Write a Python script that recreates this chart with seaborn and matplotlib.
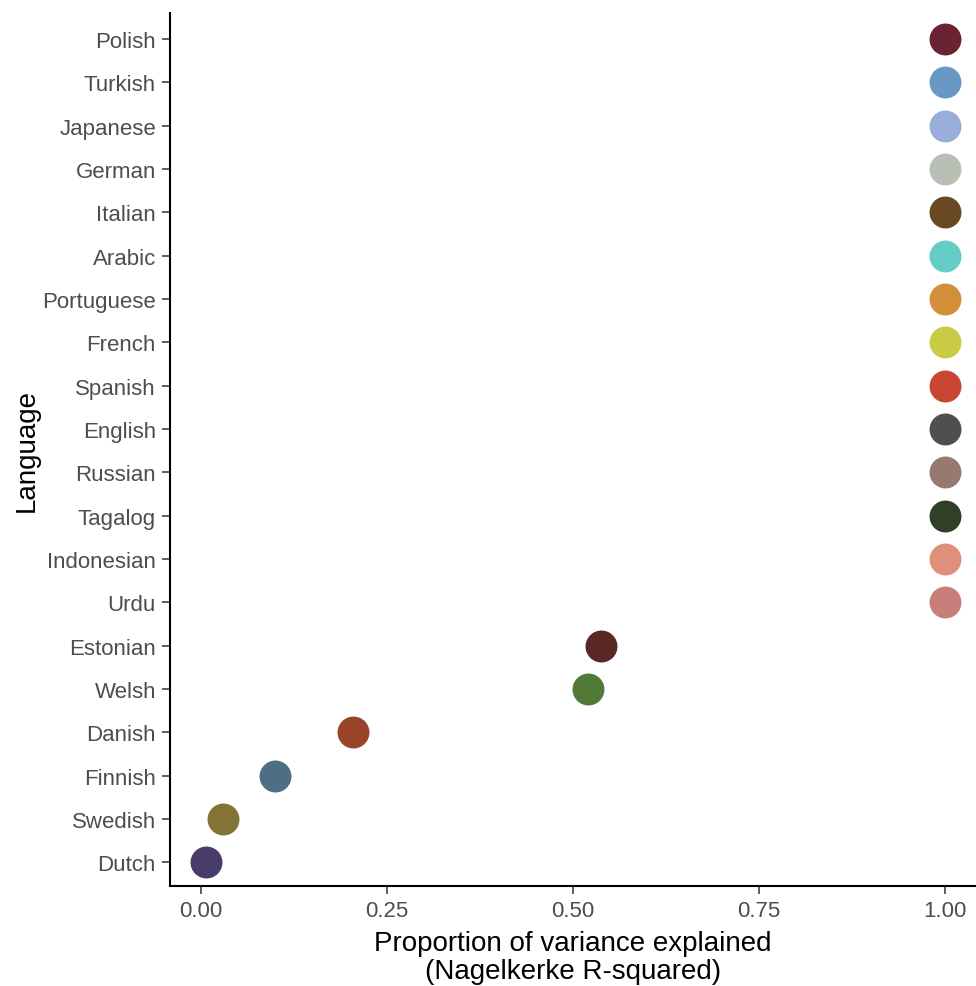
import pandas as pd
import matplotlib.pyplot as plt
import seaborn as sns

# data
languages = ['Polish', 'Turkish', 'Japanese', 'German', 'Italian', 'Arabic',
             'Portuguese', 'French', 'Spanish', 'English', 'Russian', 'Tagalog',
             'Indonesian', 'Urdu', 'Estonian', 'Welsh', 'Danish', 'Finnish',
             'Swedish', 'Dutch']
r_squared = [1.0, 1.0, 1.0, 1.0, 1.0, 1.0, 1.0, 1.0, 1.0, 1.0, 1.0, 1.0,
             1.0, 1.0, 0.538, 0.520, 0.204, 0.099, 0.030, 0.007]
colors = ['#6B2333', '#6A98C4', '#98ADDA', '#BABFB6', '#6A4823', '#66CCC6',
          '#D28E38', '#C9CB45', '#CB4632', '#4F4F4F', '#977970', '#2F4027',
          '#E0907A', '#C87F7B', '#5A2824', '#527A37', '#9A4429', '#4E6E85',
          '#837334', '#483C69']

df = pd.DataFrame({'Language': languages, 'R2': r_squared})
palette = dict(zip(languages, colors))

sns.set_style('white')
plt.rcParams['font.family'] = ['Liberation Sans', 'DejaVu Sans']

fig = plt.figure(figsize=(9.76, 9.87), dpi=100)
ax = fig.add_axes([0.174, 0.101, 0.826, 0.885])

sns.stripplot(data=df, x='R2', y='Language', hue='Language', order=languages,
              palette=palette, jitter=False, size=23, linewidth=0,
              legend=False, ax=ax)

ax.set_xlim(-0.0417, 1.0417)
ax.set_ylim(19.55, -0.6)
ax.set_xticks([0, 0.25, 0.5, 0.75, 1.0])
ax.set_xticklabels(['0.00', '0.25', '0.50', '0.75', '1.00'])
ax.set_xlabel('Proportion of variance explained\n(Nagelkerke R-squared)',
              fontsize=20, color='black', linespacing=1.12, labelpad=6)
ax.set_ylabel('Language', fontsize=20, color='black', labelpad=2)
ax.tick_params(axis='both', labelsize=16, labelcolor='#4D4D4D',
               color='#333333', length=6, width=1.1, direction='out',
               left=True, bottom=True, pad=4)

for side in ['top', 'right']:
    ax.spines[side].set_visible(False)
for side in ['left', 'bottom']:
    ax.spines[side].set_linewidth(1.5)
    ax.spines[side].set_color('black')

fig.savefig('out.png', dpi=100)
